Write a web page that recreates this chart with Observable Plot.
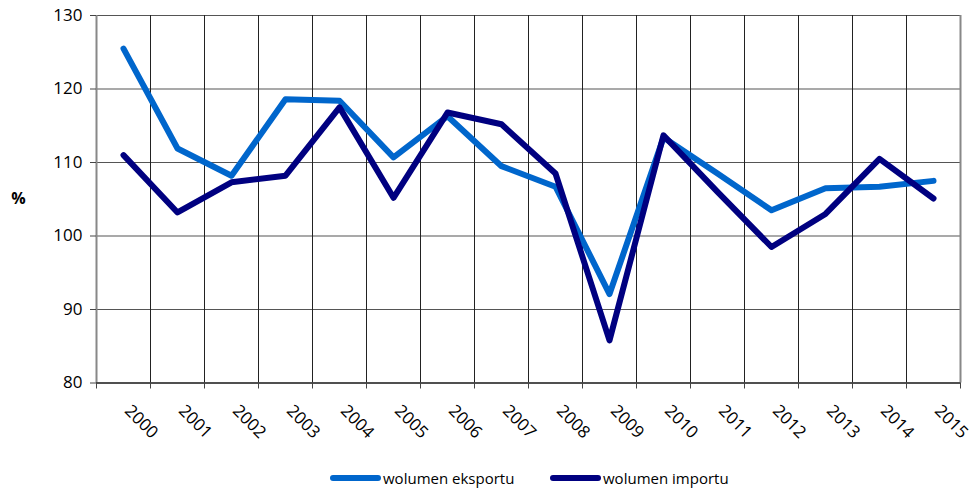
<!DOCTYPE html>
<html>
<head>
<meta charset="utf-8">
<script src="https://cdn.jsdelivr.net/npm/d3@7"></script>
<script src="https://cdn.jsdelivr.net/npm/@observablehq/plot@0.6"></script>
<style>
  html, body { margin: 0; padding: 0; background: #fff; }
  #chart { width: 975px; }
  .legend { position: relative; height: 30px; font-family: "Open Sans", sans-serif; font-size: 15px; color: #000; }
  .legend .item { position: absolute; top: 6px; display: flex; align-items: center; }
  .legend .sw { width: 51px; height: 6px; border-radius: 3px; margin-right: 2px; }
</style>
</head>
<body>
<div id="chart"></div>
<script>
const years = [2000,2001,2002,2003,2004,2005,2006,2007,2008,2009,2010,2011,2012,2013,2014,2015];
const eksport = [125.5,111.9,108.2,118.6,118.4,110.7,116.3,109.5,106.7,92.1,113.4,108.5,103.5,106.5,106.7,107.5];
const import_ = [111.0,103.2,107.3,108.2,117.5,105.2,116.8,115.2,108.5,85.8,113.7,106.0,98.5,103.0,110.5,105.1];
const seriesNames = ["wolumen eksportu", "wolumen importu"];
const seriesColors = ["#0066CC", "#000080"];
const yTicks = [80, 90, 100, 110, 120, 130];
const boundaries = d3.range(1999.5, 2016, 1);

const data = [];
years.forEach((y, i) => {
  data.push({year: y, value: eksport[i], series: seriesNames[0]});
  data.push({year: y, value: import_[i], series: seriesNames[1]});
});

const chart = Plot.plot({
  width: 975,
  height: 462,
  marginLeft: 96,
  marginRight: 15,
  marginTop: 15,
  marginBottom: 79.5,
  style: {fontFamily: "'Open Sans', sans-serif", fontSize: "15px", color: "#000", background: "#fff"},
  x: {type: "linear", domain: [1999.5, 2015.5]},
  y: {domain: [80, 130]},
  color: {domain: seriesNames, range: seriesColors},
  marks: [
    Plot.ruleY(yTicks, {stroke: "#555", strokeWidth: 1.2}),
    Plot.ruleX(boundaries, {stroke: "#222", strokeWidth: 1}),
    Plot.ruleX([1999.5], {stroke: "#888", strokeWidth: 2}),
    Plot.ruleX([2015.5], {stroke: "#888", strokeWidth: 2}),
    Plot.ruleY([80], {stroke: "#333", strokeWidth: 1.5}),
    Plot.axisY({ticks: yTicks, tickSize: 6, tickPadding: 8, label: null, fontSize: 17, stroke: "#444"}),
    Plot.axisX({ticks: boundaries, tickSize: 6, tickFormat: () => "", label: null, stroke: "#444"}),
    Plot.axisX({ticks: years, tickSize: 0, tickFormat: d => String(d), tickRotate: 45, textAnchor: "start", tickPadding: 25, dx: 4, label: null, fontSize: 17}),
    Plot.text(["%"], {frameAnchor: "left", dx: -78, text: d => d, fontWeight: "bold", fontSize: 16, textAnchor: "middle"}),
    Plot.line(data, {x: "year", y: "value", stroke: "series", z: "series", strokeWidth: 6, strokeLinejoin: "round", strokeLinecap: "round"})
  ]
});
document.getElementById("chart").append(chart);

const legend = document.createElement("div");
legend.className = "legend";
const lefts = [330, 550];
seriesNames.forEach((name, i) => {
  const item = document.createElement("div");
  item.className = "item";
  item.style.left = lefts[i] + "px";
  const sw = document.createElement("span");
  sw.className = "sw";
  sw.style.background = seriesColors[i];
  const t = document.createElement("span");
  t.textContent = name;
  item.append(sw, t);
  legend.append(item);
});
document.getElementById("chart").append(legend);
</script>
</body>
</html>
